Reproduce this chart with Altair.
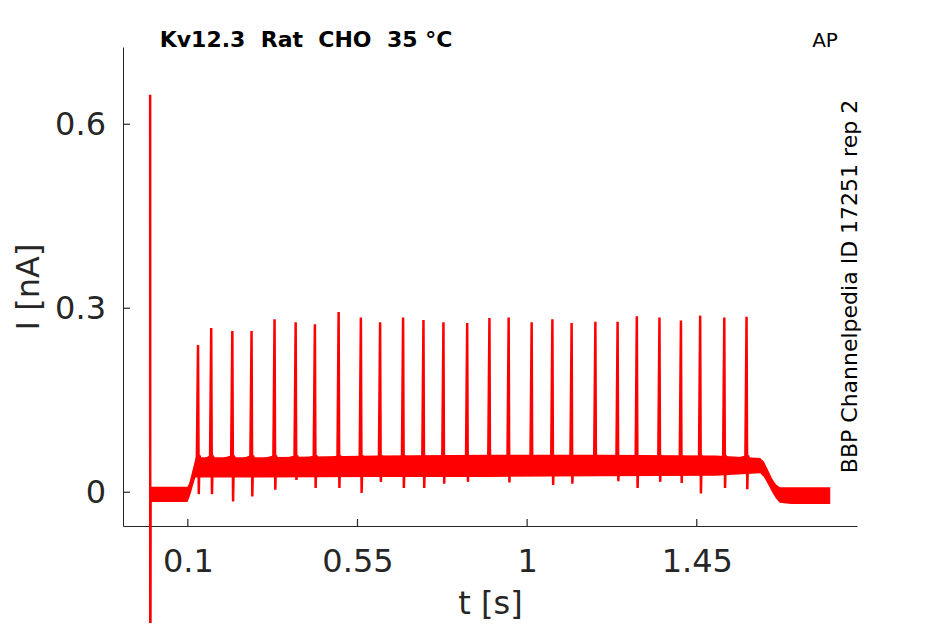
import altair as alt
import pandas as pd

# ---- data ----
# evoked spikes: time [s], peak current [nA], dip right after the spike [nA]
spike_t = [0.127, 0.162, 0.218, 0.269, 0.330, 0.386, 0.437, 0.500, 0.559,
           0.610, 0.671, 0.725, 0.778, 0.841, 0.900, 0.951, 1.012, 1.067,
           1.118, 1.181, 1.240, 1.291, 1.351, 1.408, 1.459, 1.523, 1.582]
spike_peak = [0.240, 0.268, 0.263, 0.263, 0.282, 0.277, 0.274, 0.294, 0.285,
              0.277, 0.285, 0.281, 0.277, 0.276, 0.284, 0.285, 0.277, 0.282,
              0.276, 0.278, 0.278, 0.287, 0.285, 0.280, 0.288, 0.285, 0.286]
spike_dip = [-0.003, -0.003, -0.015, -0.007, 0.004, 0.020, 0.007, 0.007, -0.001,
             0.017, 0.007, 0.007, 0.014, 0.017, 0.042, 0.016, 0.036, 0.012,
             0.014, 0.031, 0.018, 0.007, 0.017, 0.015, -0.002, 0.007, 0.005]

# capacitive transient and the start of the sweep (mean path)
start_t = [0.0, 0.0004, 0.0012, 0.050, 0.099, 0.108, 0.118]
start_i = [0.648, -0.5, -0.002, -0.003, -0.003, 0.012, 0.038]

# noise envelope of the trace (lower / upper edge)
band_t = [0.0, 0.099, 0.103, 0.108, 0.114, 0.120, 0.130, 0.300, 0.600, 0.900,
          1.200, 1.500, 1.618, 1.628, 1.640, 1.650, 1.660, 1.670, 1.700, 1.804]
band_lo = [-0.016, -0.016, -0.010, -0.001, 0.012, 0.024, 0.024, 0.024, 0.025, 0.025,
           0.026, 0.027, 0.031, 0.025, 0.012, 0.000, -0.010, -0.017, -0.019, -0.019]
band_hi = [0.009, 0.009, 0.014, 0.025, 0.040, 0.052, 0.057, 0.057, 0.060, 0.061,
           0.061, 0.060, 0.056, 0.050, 0.035, 0.022, 0.013, 0.008, 0.008, 0.008]

x_ticks = [0.1, 0.55, 1, 1.45]
y_ticks = [0, 0.3, 0.6]

title_txt = "Kv12.3\u00a0 Rat\u00a0 CHO\u00a0 35 °C"
corner_txt = "AP"
side_txt = "BBP Channelpedia ID 17251 rep 2"

# ---- tables ----
band_df = pd.DataFrame({"t": band_t, "lo": band_lo, "hi": band_hi})

rows = list(zip(start_t, start_i))
for t, p, d in zip(spike_t, spike_peak, spike_dip):
    rows += [(t - 0.003, 0.058), (t, p), (t + 0.0012, 0.075),
             (t + 0.002, d), (t + 0.004, 0.060), (t + 0.008, 0.050)]
line_df = pd.DataFrame(rows, columns=["t", "i"])

xtick_df = pd.DataFrame({"xv": x_ticks})
ytick_df = pd.DataFrame({"yv": y_ticks})

RED = "#FF0000"
INK = "#262626"
FONT = "DejaVu Sans"
W, H = 734, 479
TICK = 7

xscale = alt.Scale(domain=[-0.072, 1.875], nice=False, zero=False)
yscale = alt.Scale(domain=[-0.055, 0.726], nice=False, zero=False)

xaxis = alt.Axis(values=x_ticks, format=".3~g", title="t [s]", grid=False,
                 ticks=False, labelPadding=20.5,
                 titleY=87, titleBaseline="alphabetic")
yaxis = alt.Axis(values=y_ticks, format=".2~g", title="I [nA]", grid=False,
                 ticks=False, labelPadding=17.5,
                 titleX=-85, titleBaseline="alphabetic", titleAngle=270)

band = alt.Chart(band_df).mark_area(color=RED, opacity=1).encode(
    x=alt.X("t:Q", scale=xscale, axis=xaxis),
    y=alt.Y("lo:Q", scale=yscale, axis=yaxis),
    y2="hi:Q",
)

trace = alt.Chart(line_df).mark_line(color=RED, strokeWidth=2.5).encode(
    x=alt.X("t:Q", scale=xscale),
    y=alt.Y("i:Q", scale=yscale),
)

# inward tick marks
xticks = alt.Chart(xtick_df).mark_rule(color=INK, strokeWidth=1.2).encode(
    x=alt.X("xv:Q", scale=xscale),
    y=alt.value(H), y2=alt.value(H - TICK),
)
yticks = alt.Chart(ytick_df).mark_rule(color=INK, strokeWidth=1.2).encode(
    y=alt.Y("yv:Q", scale=yscale),
    x=alt.value(0), x2=alt.value(TICK),
)

title_mark = alt.Chart(pd.DataFrame({"s": [title_txt]})).mark_text(
    font=FONT, fontSize=22, fontWeight="bold", color="black",
    align="center", baseline="alphabetic"
).encode(text="s:N", x=alt.value(183), y=alt.value(0))

corner_mark = alt.Chart(pd.DataFrame({"s": [corner_txt]})).mark_text(
    font=FONT, fontSize=20, color="black",
    align="center", baseline="alphabetic"
).encode(text="s:N", x=alt.value(702), y=alt.value(0))

side_mark = alt.Chart(pd.DataFrame({"s": [side_txt]})).mark_text(
    font=FONT, fontSize=22, color="black", angle=270,
    align="center", baseline="middle"
).encode(text="s:N", x=alt.value(727), y=alt.value(239.5))

chart = alt.layer(band, trace, xticks, yticks, title_mark, corner_mark, side_mark).properties(
    width=W, height=H,
    autosize=alt.AutoSizeParams(type="none"),
    padding={"left": 115, "top": 39, "right": 65, "bottom": 97},
).configure_view(stroke=None).configure_axis(
    labelFont=FONT, labelFontSize=32, labelColor=INK,
    titleFont=FONT, titleFontSize=32, titleFontWeight="normal", titleColor=INK,
    domainColor=INK, domainWidth=1,
    labelFlush=False, labelOverlap=False,
)

chart.save("out.html", embed_options={"renderer": "svg", "actions": False})
